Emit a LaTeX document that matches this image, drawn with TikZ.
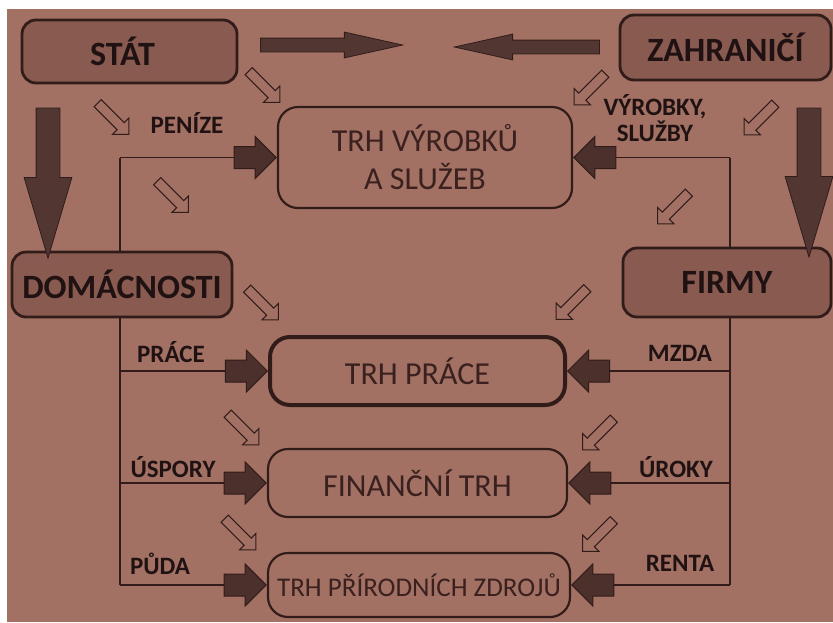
\documentclass[tikz,border=0pt]{standalone}
\usepackage{fontspec}
\setmainfont{Carlito}
\usetikzlibrary{shapes.arrows}
\pgfdeclarelayer{paper}
\pgfdeclarelayer{wires}
\pgfsetlayers{paper,wires,main}
\definecolor{bg}{RGB}{162,113,100}
\definecolor{boxfill}{RGB}{136,90,80}
\definecolor{darkfill}{RGB}{76,48,44}
\definecolor{bigfill}{RGB}{82,54,50}
\definecolor{ln}{RGB}{50,28,26}
\definecolor{txt}{RGB}{32,18,18}
\definecolor{mtxt}{RGB}{58,32,30}
\begin{document}
\begin{tikzpicture}[x=1pt,y=-1pt,
  mainbox/.style={draw=ln, rounded corners=14pt, line width=2.8pt, fill=boxfill, text=txt,
    font=\bfseries\fontsize{34}{36}\selectfont, inner sep=0pt},
  market/.style={draw=ln, rounded corners=20pt, line width=2.2pt, fill=bg, text=mtxt,
    font=\fontsize{32}{38}\selectfont, inner sep=0pt, align=center},
  lbl/.style={text=txt, font=\bfseries\fontsize{25}{26}\selectfont, inner sep=0pt, align=center},
  flow/.style={draw=ln, line width=1.6pt},
  darrow/.style={single arrow, draw=ln, fill=darkfill, line width=1pt, minimum height=42pt,
    inner sep=10.5pt, single arrow head extend=10pt, single arrow tip angle=90},
  harrow/.style={single arrow, draw=ln, fill=bg, line width=1pt, minimum height=44pt,
    inner sep=4.5pt, single arrow head extend=6.5pt, single arrow tip angle=90},
  bigarrowH/.style={single arrow, draw=ln, fill=bigfill, line width=0.8pt,
    inner sep=6.5pt, single arrow head extend=6pt, single arrow tip angle=25},
  bigarrowV/.style={single arrow, draw=ln, fill=bigfill, line width=0.8pt,
    inner sep=11.5pt, single arrow head extend=12pt, single arrow tip angle=33}
]
% page and photo background
\begin{pgfonlayer}{paper}
\fill[white] (0,0) rectangle (833,622);
\fill[bg] (7,9) rectangle (833,622);
\end{pgfonlayer}
\useasboundingbox (0,0) rectangle (833,622);

% markets
\node[market, minimum width=294pt, minimum height=101pt] (vyr) at (425,157.5) {TRH VÝROBKŮ\\A SLUŽEB};
\node[market, line width=4pt, minimum width=295pt, minimum height=68pt] (prace) at (417.5,371) {TRH PRÁCE};
\node[market, minimum width=299pt, minimum height=68pt] (fin) at (417.5,483) {FINANČNÍ TRH};
\node[market, minimum width=302pt, minimum height=64pt, font=\fontsize{27}{30}\selectfont] (prir) at (419,585) {TRH PŘÍRODNÍCH ZDROJŮ};

% dark block arrows into markets (left side)
\node[darrow, anchor=tip] (a1) at (vyr.west) {};
\node[darrow, anchor=tip] (a2) at (prace.west) {};
\node[darrow, anchor=tip] (a3) at (fin.west) {};
\node[darrow, anchor=tip] (a4) at (prir.west) {};
% dark block arrows into markets (right side)
\node[darrow, anchor=tip, rotate=180] (b1) at (vyr.east) {};
\node[darrow, anchor=tip, rotate=180] (b2) at (prace.east) {};
\node[darrow, anchor=tip, rotate=180] (b3) at (fin.east) {};
\node[darrow, anchor=tip, rotate=180] (b4) at (prir.east) {};

% flow lines (on a layer below the shapes)
\coordinate (LX) at (120,0);
\coordinate (RX) at (730,0);
\begin{pgfonlayer}{wires}
\draw[flow] (LX |- a1.tail) -- (LX |- a4.tail);
\draw[flow] (RX |- b1.tail) -- (RX |- b4.tail);
\draw[flow] (LX |- a1.tail) -- (a1.tail);
\draw[flow] (LX |- a2.tail) -- (a2.tail);
\draw[flow] (LX |- a3.tail) -- (a3.tail);
\draw[flow] (LX |- a4.tail) -- (a4.tail);
\draw[flow] (RX |- b1.tail) -- (b1.tail);
\draw[flow] (RX |- b2.tail) -- (b2.tail);
\draw[flow] (RX |- b3.tail) -- (b3.tail);
\draw[flow] (RX |- b4.tail) -- (b4.tail);
\end{pgfonlayer}

% main sector boxes
\node[mainbox, minimum width=215pt, minimum height=63pt] (stat) at (129.5,51.5) {STÁT\hspace*{14pt}};
\node[mainbox, minimum width=211pt, minimum height=65pt] (zahr) at (725.5,47.5) {ZAHRANIČÍ};
\node[mainbox, minimum width=220pt, minimum height=65pt] (dom) at (122,284.5) {DOMÁCNOSTI};
\node[mainbox, minimum width=208pt, minimum height=69pt] (firmy) at (727,282.5) {FIRMY};

% big arrows between sectors
\node[bigarrowH, minimum height=142pt] (s2) at (316,45) {};
\node[bigarrowH, minimum height=145pt, rotate=180] (z2) at (542.5,47) {};
\node[bigarrowV, minimum height=150pt, rotate=-90] (s3) at (48,163) {};
\node[bigarrowV, minimum height=149pt, rotate=-90] (z3) at (809,162.5) {};

% hollow arrows (down-right)
\node[harrow, rotate=-45] (h1) at (262.5,85) {};
\node[harrow, rotate=-45] (h2) at (111.5,117) {};
\node[harrow, rotate=-45] (h3) at (171,195) {};
\node[harrow, rotate=-45] (h4) at (261,302.5) {};
\node[harrow, rotate=-45] (h5) at (241.5,427.5) {};
\node[harrow, rotate=-45] (h6) at (238.5,532.5) {};
% hollow arrows (down-left)
\node[harrow, rotate=-135] (h7) at (591.5,87.5) {};
\node[harrow, rotate=-135] (h8) at (761.5,117.5) {};
\node[harrow, rotate=-135] (h9) at (675,206.5) {};
\node[harrow, rotate=-135] (h10) at (573.5,302) {};
\node[harrow, rotate=-135] (h11) at (600,432.5) {};
\node[harrow, rotate=-135] (h12) at (600,534) {};

% labels
\node[lbl] (lpen) at (187,123) {PENÍZE};
\node[lbl] (lvyr) at (655,118) {VÝROBKY,\\SLUŽBY};
\node[lbl] (lpra) at (171,352) {PRÁCE};
\node[lbl] (lmz) at (680,353) {MZDA};
\node[lbl] (lusp) at (173,467) {ÚSPORY};
\node[lbl] (luro) at (676,467) {ÚROKY};
\node[lbl] (lpud) at (160,564) {PŮDA};
\node[lbl] (lren) at (680,563) {RENTA};
\end{tikzpicture}
\end{document}
